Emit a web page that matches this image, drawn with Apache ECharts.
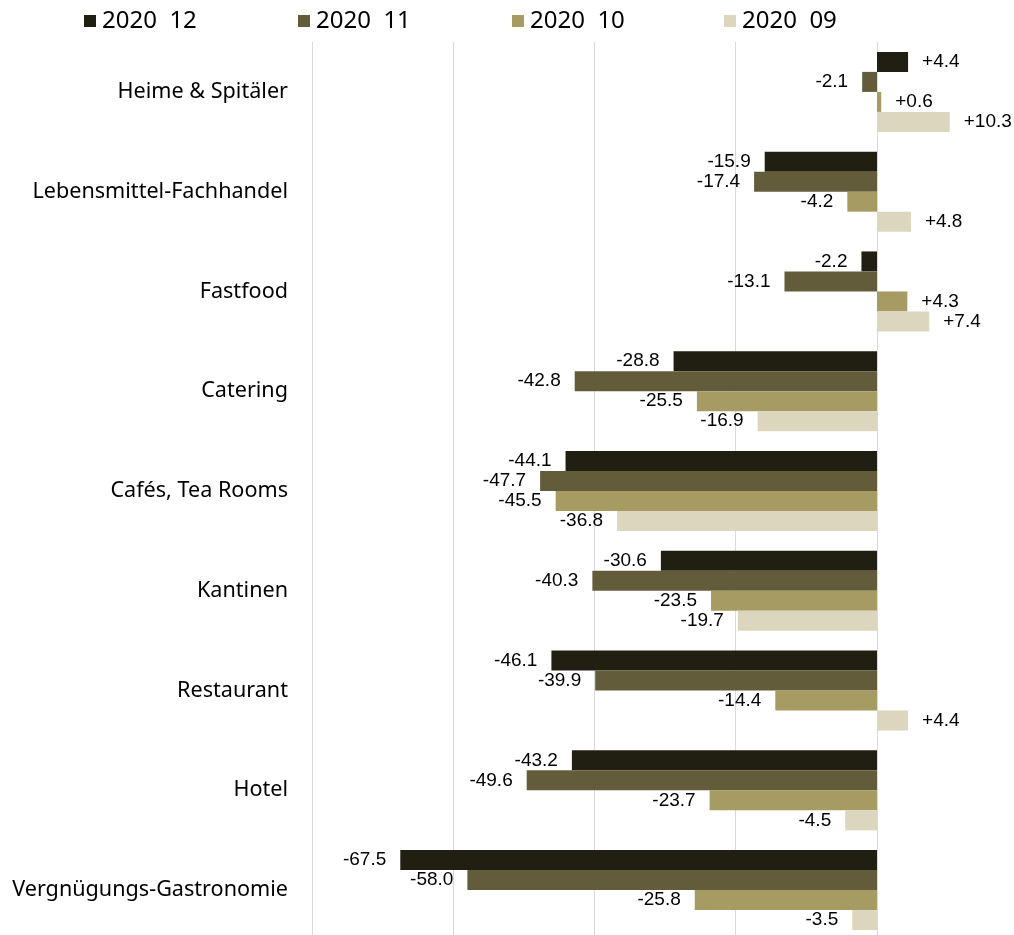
<!DOCTYPE html>
<html>
<head>
<meta charset="utf-8">
<script src="https://cdn.jsdelivr.net/npm/echarts@6/dist/echarts.min.js"></script>
<style>
  html, body { margin: 0; padding: 0; background: #fff; }
  #chart { width: 1014px; height: 935px; }
</style>
</head>
<body>
<div id="chart"></div>
<script>
const categories = [
  'Heime & Spitäler',
  'Lebensmittel-Fachhandel',
  'Fastfood',
  'Catering',
  'Cafés, Tea Rooms',
  'Kantinen',
  'Restaurant',
  'Hotel',
  'Vergnügungs-Gastronomie'
]

const seriesNames = ['2020  12', '2020  11', '2020  10', '2020  09']

const dec2020 = [4.4, -15.9, -2.2, -28.8, -44.1, -30.6, -46.1, -43.2, -67.5]
const nov2020 = [-2.1, -17.4, -13.1, -42.8, -47.7, -40.3, -39.9, -49.6, -58.0]
const oct2020 = [0.6, -4.2, 4.3, -25.5, -45.5, -23.5, -14.4, -23.7, -25.8]
const sep2020 = [10.3, 4.8, 7.4, -16.9, -36.8, -19.7, 4.4, -4.5, -3.5]

const colors = ['#211e12', '#635c3a', '#a69c63', '#dbd6bd']
const legendLeft = [84, 298, 512, 724]

const chart = echarts.init(document.getElementById('chart'))

// label left of negative bars, right of positive ones
const toItems = values => values.map(v => ({
  value: v,
  label: { position: v < 0 ? 'left' : 'right' }
}))

const series = [dec2020, nov2020, oct2020, sep2020].map((values, i) => ({
  name: seriesNames[i],
  type: 'bar',
  barWidth: 20,
  barGap: '0%',
  data: toItems(values),
  itemStyle: { color: colors[i] },
  label: {
    show: true,
    distance: 14,
    color: '#000',
    fontFamily: 'Liberation Sans, Arial, sans-serif',
    fontSize: 19,
    formatter: p => (p.value > 0 ? '+' : '') + p.value.toFixed(1)
  }
}))

const option = {
  animation: false,
  legend: seriesNames.map((name, i) => ({
    data: [name],
    left: legendLeft[i],
    top: 9,
    padding: 0,
    itemWidth: 12,
    itemHeight: 12,
    itemGap: 5,
    icon: 'rect',
    textStyle: {
      fontFamily: 'Noto Sans, sans-serif',
      fontSize: 24,
      color: '#000',
      padding: [0, 0, 0, 1]
    }
  })),
  grid: {
    left: 312,
    right: 0,
    top: 42,
    height: 898,
    containLabel: false,
    outerBoundsMode: 'none'
  },
  xAxis: {
    type: 'value',
    min: -80,
    max: 19.4,
    interval: 20,
    axisLabel: { show: false },
    axisLine: { show: false },
    axisTick: { show: false },
    splitLine: { show: true, lineStyle: { color: '#d9d9d9', width: 1 } }
  },
  yAxis: {
    type: 'category',
    inverse: true,
    data: categories,
    axisLine: { show: false, onZero: false },
    axisTick: { show: false },
    axisLabel: {
      margin: 24,
      color: '#000',
      fontFamily: 'Noto Sans, sans-serif',
      fontSize: 21.6
    }
  },
  series: series
}

chart.setOption(option)
</script>
</body>
</html>
